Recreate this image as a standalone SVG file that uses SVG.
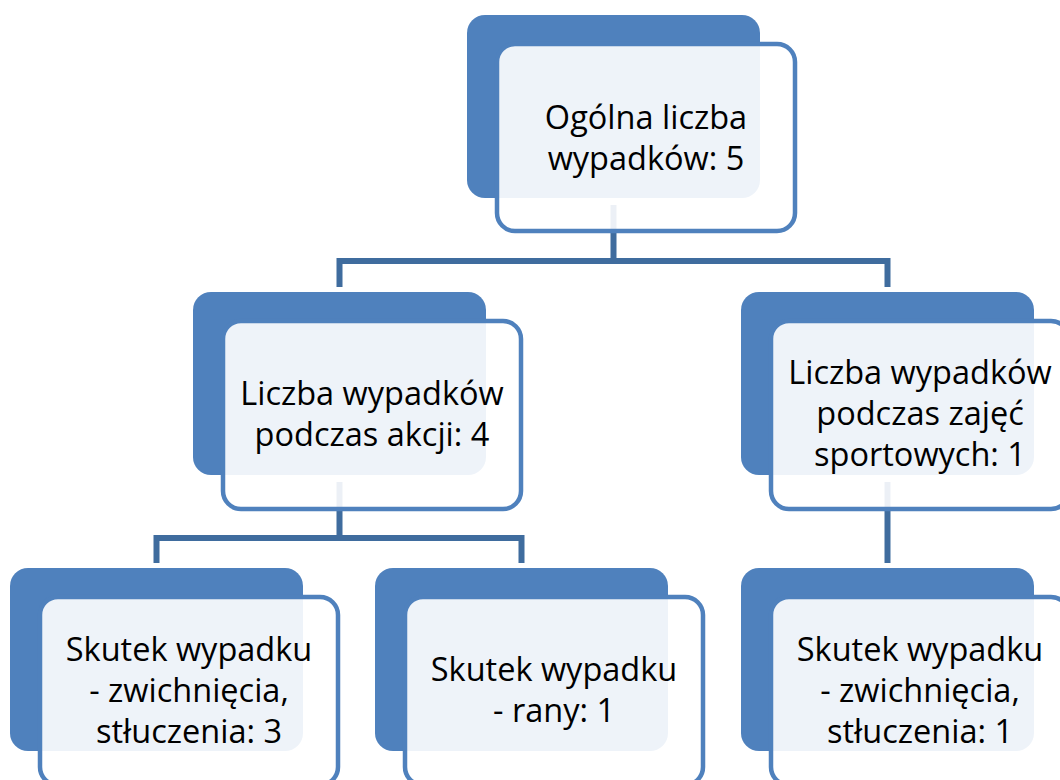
<svg xmlns="http://www.w3.org/2000/svg" width="1060" height="780" viewBox="0 0 1060 780">
  <style>
    .back { fill: #4F81BD; }
    .front { fill: #FFFFFF; fill-opacity: 0.9; stroke: #4F81BD; stroke-width: 4.5; }
    .conn { fill: none; stroke: #3F6C9E; stroke-width: 6; stroke-linejoin: miter; }
    .lbl { font-family: "Open Sans", "Liberation Sans", sans-serif; font-size: 32.5px; fill: #000000; text-anchor: middle; }
  </style>
  <rect width="1060" height="780" fill="#FFFFFF"/>
  <g id="connectors">
    <path class="conn" d="M613.5 205 V261 M339.5 287 V261 H887.5 V287"/>
    <path class="conn" d="M339.5 482 V538 M156.5 563 V538 H521.5 V563"/>
    <path class="conn" d="M887.5 482 V563"/>
  </g>
  <g id="node-top">
    <rect class="back" x="467" y="15" width="293" height="183" rx="18"/>
    <rect class="front" x="497" y="44" width="298" height="187" rx="18"/>
    <text class="lbl" x="646" y="128.5">Ogólna liczba</text>
    <text class="lbl" x="646" y="170">wypadków: 5</text>
  </g>
  <g id="node-akcje">
    <rect class="back" x="193" y="292" width="293" height="183" rx="18"/>
    <rect class="front" x="223" y="321" width="298" height="188" rx="18"/>
    <text class="lbl" x="372" y="405">Liczba wypadków</text>
    <text class="lbl" x="372" y="446">podczas akcji: 4</text>
  </g>
  <g id="node-sport">
    <rect class="back" x="741" y="292" width="293" height="183" rx="18"/>
    <rect class="front" x="771" y="321" width="298" height="188" rx="18"/>
    <text class="lbl" x="920" y="384">Liczba wypadków</text>
    <text class="lbl" x="920" y="425">podczas zajęć</text>
    <text class="lbl" x="920" y="466">sportowych: 1</text>
  </g>
  <g id="node-skutek-1">
    <rect class="back" x="10" y="568" width="293" height="183" rx="18"/>
    <rect class="front" x="40" y="597" width="298" height="188" rx="18"/>
    <text class="lbl" x="189" y="661">Skutek wypadku</text>
    <text class="lbl" x="189" y="702">- zwichnięcia,</text>
    <text class="lbl" x="189" y="743">stłuczenia: 3</text>
  </g>
  <g id="node-skutek-2">
    <rect class="back" x="375" y="568" width="293" height="183" rx="18"/>
    <rect class="front" x="405" y="597" width="298" height="188" rx="18"/>
    <text class="lbl" x="554" y="681">Skutek wypadku</text>
    <text class="lbl" x="554" y="722">- rany: 1</text>
  </g>
  <g id="node-skutek-3">
    <rect class="back" x="741" y="568" width="293" height="183" rx="18"/>
    <rect class="front" x="771" y="597" width="298" height="188" rx="18"/>
    <text class="lbl" x="920" y="661">Skutek wypadku</text>
    <text class="lbl" x="920" y="702">- zwichnięcia,</text>
    <text class="lbl" x="920" y="743">stłuczenia: 1</text>
  </g>
</svg>
